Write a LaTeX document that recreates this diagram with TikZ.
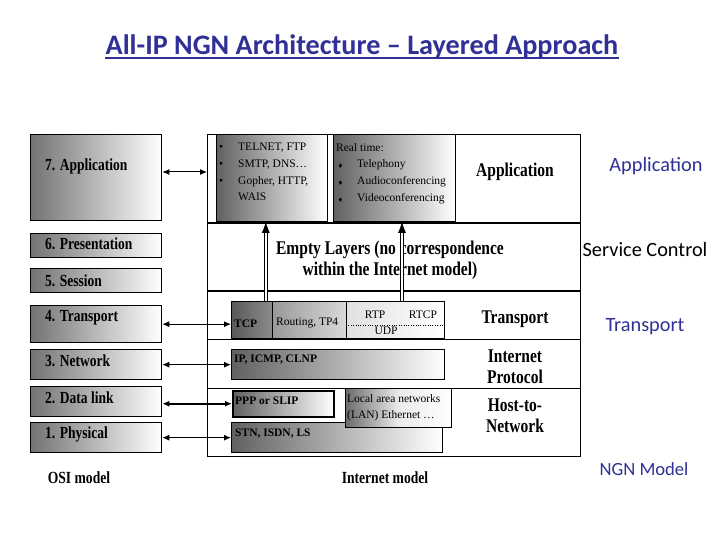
\documentclass[tikz,border=0pt]{standalone}
\usepackage{amssymb}
\usepackage{fontspec}
\setmainfont{Liberation Serif}
\newfontfamily\condfont{Liberation Serif}[FakeStretch=0.8]
\newfontfamily\slidefont{Carlito}
\usetikzlibrary{arrows.meta,positioning,calc}

\definecolor{slideblue}{RGB}{48,48,150}

\tikzset{
  osibox/.style={draw, line width=1.3pt, left color=black!55, middle color=black!12, right color=white, anchor=north west, minimum width=131pt},
  inetbox/.style={draw, line width=0.8pt, left color=black!62, middle color=black!12, right color=white, anchor=north west},
  osilbl/.style={font=\condfont\bfseries\fontsize{16.9}{18}\selectfont, anchor=west},
  layerlbl/.style={font=\condfont\bfseries\fontsize{19.4}{21}\selectfont, align=center},
  smalllbl/.style={font=\fontsize{11.5}{16.7}\selectfont},
  boldsmall/.style={font=\bfseries\fontsize{11.5}{16.5}\selectfont, anchor=west},
  ngnlbl/.style={font=\slidefont\fontsize{20.3}{24}\selectfont},
  osiarrow/.style={line width=1pt, {Latex[length=7pt,width=6pt]}-{Latex[length=7pt,width=6pt]}},
  uparrow/.style={draw, double, double distance=2.5pt, line width=0.7pt, -{Latex[length=11pt,width=8pt]}}
}

\begin{document}
\begin{tikzpicture}[x=1pt, y=-1pt, every node/.style={inner sep=0pt}]
  \useasboundingbox[fill=white] (0,0) rectangle (720,540);

  % title
  \node[font=\slidefont\bfseries\fontsize{28.2}{32}\selectfont, text=slideblue] (title) at (362,47) {All-IP NGN Architecture – Layered Approach};
  \draw[slideblue, line width=1.8pt] ([yshift=-3.5pt]title.base west) -- ([yshift=-3.5pt]title.base east);

  % OSI model
  \node[osibox, minimum height=86pt] (osi7) at (30,134) {};
  \node[osibox, minimum height=24pt] (osi6) at (30,233) {};
  \node[osibox, minimum height=24pt] (osi5) at (30,268) {};
  \node[osibox, minimum height=37pt] (osi4) at (30,305) {};
  \node[osibox, minimum height=30pt] (osi3) at (30,349) {};
  \node[osibox, minimum height=30pt] (osi2) at (30,386) {};
  \node[osibox, minimum height=30pt] (osi1) at (30,422) {};
  \node[osilbl] (l7) at (45,166) {7. Application};
  \node[osilbl] (l6) at (45,244) {6. Presentation};
  \node[osilbl] (l5) at (45,281) {5. Session};
  \node[osilbl] (l4) at (45,318) {4. Transport};
  \node[osilbl] (l3) at (45,361) {3. Network};
  \node[osilbl] (l2) at (45,398) {2. Data link};
  \node[osilbl] (l1) at (45,434) {1. Physical};
  \node[font=\condfont\bfseries\fontsize{17}{18}\selectfont] (osiname) at (79,478) {OSI model};

  % Internet model
  \node[draw, line width=1.3pt, anchor=north west, minimum width=373pt, minimum height=322pt] (inet) at (207,134) {};
  \draw[line width=1.3pt] (inet.west |- 0,223) -- (inet.east |- 0,223);
  \draw[line width=1.3pt] (inet.west |- 0,291) -- (inet.east |- 0,291);
  \draw[line width=1pt] (inet.west |- 0,339) -- (inet.east |- 0,339);
  \draw[line width=1pt] (inet.west |- 0,388) -- (inet.east |- 0,388);

  \node[inetbox, minimum width=111pt, minimum height=87pt] (telnet) at (216,134) {};
  \node[inetbox, minimum width=122pt, minimum height=87pt] (realtime) at (333,134) {};
  \node[smalllbl, anchor=north west, align=left] (telnettxt) at (219,143)
    {\makebox[19pt][l]{\textbullet}TELNET, FTP\\
     \makebox[19pt][l]{\textbullet}SMTP, DNS…\\
     \makebox[19pt][l]{\textbullet}Gopher, HTTP,\\
     \hspace*{19pt}WAIS};
  \node[smalllbl, anchor=north west, align=left] (realtimetxt) at (336,143)
    {Real time:\\
     \hspace*{2pt}\makebox[19pt][l]{\tiny$\blacklozenge$}Telephony\\
     \hspace*{2pt}\makebox[19pt][l]{\tiny$\blacklozenge$}Audioconferencing\\
     \hspace*{2pt}\makebox[19pt][l]{\tiny$\blacklozenge$}Videoconferencing};
  \node[layerlbl] (appname) at (515,172) {Application};

  \node[layerlbl] (empty) at (390,260) {Empty Layers (no correspondence\\within the Internet model)};

  \node[inetbox, minimum width=41pt, minimum height=37pt, left color=black!65, middle color=black!55, right color=black!45] (tcp) at (231,301) {};
  \node[inetbox, minimum width=74pt, minimum height=37pt, left color=black!40, middle color=black!27, right color=black!15] (routing) at (272,301) {};
  \node[inetbox, minimum width=98pt, minimum height=37pt, left color=black!12, middle color=black!5, right color=white] (rtp) at (346,301) {};
  \draw[dotted] ([yshift=-5pt]rtp.west) -- ([yshift=-5pt]rtp.east);
  \node[boldsmall] (tcptxt) at (234,324) {TCP};
  \node[smalllbl, anchor=west] (routingtxt) at (276,323) {Routing, TP4};
  \node[smalllbl] (rtptxt) at (375,315) {RTP};
  \node[smalllbl] (rtcptxt) at (423,315) {RTCP};
  \node[smalllbl] (udptxt) at (386,331) {UDP};
  \node[layerlbl] (transname) at (515,319) {Transport};

  \node[inetbox, minimum width=213pt, minimum height=30pt] (ip) at (231,349) {};
  \node[boldsmall] (iptxt) at (234,360) {IP, ICMP, CLNP};
  \node[layerlbl] (ipname) at (515,367) {Internet\\Protocol};

  \node[inetbox, line width=1.5pt, minimum width=101pt, minimum height=26pt] (ppp) at (232,390) {};
  \node[boldsmall] (ppptxt) at (235,401) {PPP or SLIP};
  \node[inetbox, minimum width=211pt, minimum height=30pt] (stn) at (231,422) {};
  \node[boldsmall] (stntxt) at (235,434) {STN, ISDN, LS};
  \node[inetbox, minimum width=106pt, minimum height=39pt, left color=black!58, middle color=black!8] (lan) at (345,388) {};
  \node[smalllbl, anchor=north west, align=left] (lantxt) at (347,394) {Local area networks\\(LAN) Ethernet …};
  \node[layerlbl] (hostname) at (515,416) {Host-to-\\Network};
  \node[font=\condfont\bfseries\fontsize{17}{18}\selectfont] (inetname) at (385,478) {Internet model};

  % OSI <-> Internet
  \coordinate (a7) at (inet.west |- 0,172);
  \draw[osiarrow] (osi7.east |- a7) -- (a7);
  \draw[osiarrow] (osi4.east) -- (osi4.east -| tcp.west);
  \draw[osiarrow] (osi3.east) -- (osi3.east -| ip.west);
  \draw[osiarrow, line width=1.8pt] (ppp.west -| osi2.east) -- (ppp.west);
  \draw[osiarrow] (osi1.east) -- (osi1.east -| stn.west);

  % transport up to application
  \coordinate (up1) at ([xshift=-7pt]tcp.north east);
  \coordinate (up2) at ([xshift=56pt]rtp.north west);
  \draw[uparrow] (up1) -- (up1 |- telnet.south);
  \draw[uparrow] (up2) -- (up2 |- realtime.south);

  % NGN model
  \node[ngnlbl, text=slideblue] (ngnapp) at (656,166) {Application};
  \node[ngnlbl] (ngnctrl) at (645,250) {Service Control};
  \node[ngnlbl, text=slideblue] (ngntrans) at (645,327) {Transport};
  \node[ngnlbl, text=slideblue, font=\slidefont\fontsize{18.6}{22}\selectfont] (ngnname) at (644,469) {NGN Model};
\end{tikzpicture}
\end{document}
